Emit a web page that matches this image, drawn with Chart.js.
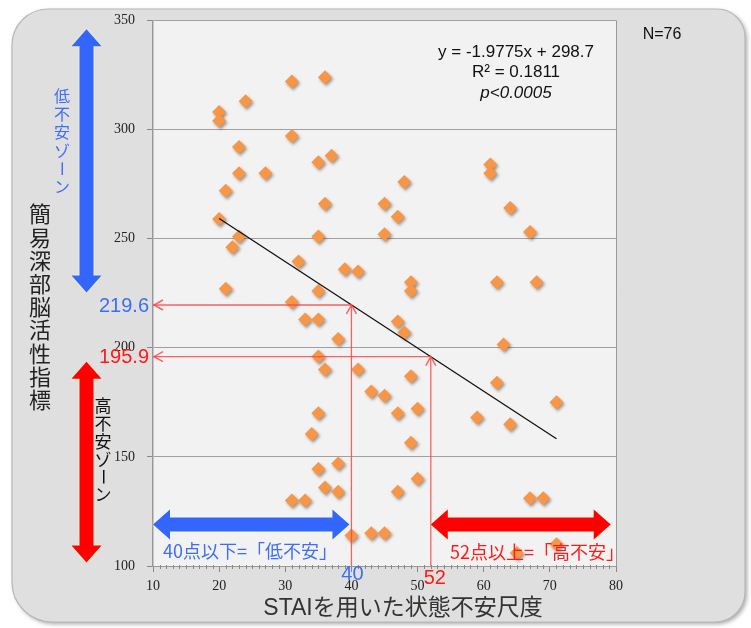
<!DOCTYPE html>
<html>
<head>
<meta charset="utf-8">
<script src="https://cdn.jsdelivr.net/npm/chart.js@4.4.1/dist/chart.umd.min.js"></script>
<style>
  body { margin: 0; background: #fff; }
</style>
</head>
<body>
<canvas id="scatterChart" width="751" height="628"></canvas>
<script>
// STAI score (x) vs brain activity index (y)
var staiScores = [31, 36, 24, 20, 20, 31, 23, 37, 35, 23, 27, 21, 36, 45, 61, 61, 48, 64,
    20, 23, 22, 35, 45, 32, 39, 41, 21, 35, 31, 33, 35, 38, 35, 36, 41, 43, 45, 47,
    67, 49, 49, 62, 68, 47, 48, 63, 49, 62, 71, 47, 50, 59, 64, 49, 50, 47, 67, 69,
    71, 65, 35, 34, 35, 38, 36, 38, 31, 33, 40, 43, 45];
var brainIndex = [322, 324, 313, 308, 304, 297, 292, 288, 285, 280, 280, 272, 266, 266, 284, 280, 276, 264,
    259, 251, 246, 251, 252, 239.5, 236, 235, 227, 226, 221, 213, 213, 204, 196, 190, 190, 180, 178, 260,
    253, 230, 226, 230, 230, 212, 207, 201.5, 187, 184, 175, 170, 172, 168, 165, 156.5, 140, 134, 131, 131,
    110, 106, 170, 160.5, 144.5, 147, 136, 134, 130, 130, 114, 115, 115];

// regression line y = -1.9775x + 298.7 drawn between these ends
var trendX = [20, 71];
var trendY = [259.2, 158.3];

// cut-off guides: STAI 40 -> 219.6, STAI 52 -> 195.9
var lowCutX = [40, 40, 10];
var lowCutY = [100, 219.6, 219.6];
var highCutX = [52, 52, 10];
var highCutY = [100, 195.9, 195.9];

var xTicks = [10, 20, 30, 40, 50, 60, 70, 80];
var yTicks = [100, 150, 200, 250, 300, 350];

function toPoints(xs, ys) {
    return xs.map(function (x, i) { return { x: x, y: ys[i] }; });
}

var BLUE = '#3d6ef7';
var RED = '#ff1a1a';

function vText(ctx, str, x, y0, step) {
    for (var i = 0; i < str.length; i++) {
        var ch = str[i];
        var y = y0 + i * step;
        if (ch === 'ー') {
            ctx.save();
            ctx.translate(x, y);
            ctx.rotate(Math.PI / 2);
            ctx.fillText(ch, 0, 0);
            ctx.restore();
        } else {
            ctx.fillText(ch, x, y);
        }
    }
}

// double headed fat arrow between (x1,y1) and (x2,y2)
function fatArrow(ctx, x1, y1, x2, y2, color) {
    var dx = x2 - x1, dy = y2 - y1;
    var len = Math.sqrt(dx * dx + dy * dy);
    var shaft = 7, head = 15, hl = 17;
    ctx.save();
    ctx.translate(x1, y1);
    ctx.rotate(Math.atan2(dy, dx));
    ctx.beginPath();
    ctx.moveTo(0, 0);
    ctx.lineTo(hl, -head);
    ctx.lineTo(hl, -shaft);
    ctx.lineTo(len - hl, -shaft);
    ctx.lineTo(len - hl, -head);
    ctx.lineTo(len, 0);
    ctx.lineTo(len - hl, head);
    ctx.lineTo(len - hl, shaft);
    ctx.lineTo(hl, shaft);
    ctx.lineTo(hl, head);
    ctx.closePath();
    ctx.shadowColor = 'rgba(255,250,190,0.9)';
    ctx.shadowBlur = 3;
    ctx.fillStyle = color;
    ctx.fill();
    ctx.restore();
}

function openHead(ctx, x, y, angle, color) {
    ctx.save();
    ctx.translate(x, y);
    ctx.rotate(angle);
    ctx.strokeStyle = color;
    ctx.lineWidth = 1.5;
    ctx.beginPath();
    ctx.moveTo(9, -5);
    ctx.lineTo(0, 0);
    ctx.lineTo(9, 5);
    ctx.stroke();
    ctx.restore();
}

var decorPlugin = {
    id: 'decor',
    beforeDraw: function (chart) {
        var ctx = chart.ctx, a = chart.chartArea;
        ctx.save();
        ctx.fillStyle = '#fff';
        ctx.fillRect(0, 0, chart.width, chart.height);
        ctx.shadowColor = 'rgba(0,0,0,0.35)';
        ctx.shadowBlur = 4;
        ctx.shadowOffsetX = 2;
        ctx.shadowOffsetY = 2;
        ctx.beginPath();
        ctx.roundRect(12, 9, 733, 613, [36, 28, 30, 40]);
        ctx.fillStyle = '#dfdfdf';
        ctx.fill();
        ctx.shadowColor = 'transparent';
        ctx.strokeStyle = '#b8b8b8';
        ctx.lineWidth = 1.2;
        ctx.stroke();
        ctx.fillStyle = '#f2f2f2';
        ctx.fillRect(a.left, a.top, a.right - a.left, a.bottom - a.top);
        ctx.restore();
    },
    beforeDatasetDraw: function (chart, args) {
        if (args.index === 0) {
            var ctx = chart.ctx;
            ctx.save();
            ctx.shadowColor = 'rgba(60,40,20,0.45)';
            ctx.shadowBlur = 3;
            ctx.shadowOffsetX = 1.5;
            ctx.shadowOffsetY = 2;
        }
    },
    afterDatasetDraw: function (chart, args) {
        if (args.index === 0) chart.ctx.restore();
    },
    afterDraw: function (chart) {
        var ctx = chart.ctx, a = chart.chartArea;
        var xs = chart.scales.x, ys = chart.scales.y;
        ctx.save();

        // right frame line
        ctx.strokeStyle = '#999';
        ctx.lineWidth = 1;
        ctx.beginPath();
        ctx.moveTo(a.right + 0.5, a.top);
        ctx.lineTo(a.right + 0.5, a.bottom);
        ctx.stroke();

        // minor ticks on x axis
        ctx.strokeStyle = '#888';
        for (var v = 11; v < 80; v++) {
            if (v % 10 === 0) continue;
            var px = Math.round(xs.getPixelForValue(v)) + 0.5;
            ctx.beginPath();
            ctx.moveTo(px, a.bottom - 1);
            ctx.lineTo(px, a.bottom + 3);
            ctx.stroke();
        }

        // open arrow heads on the cut-off guides
        var guide = 'rgba(255,70,70,0.85)';
        openHead(ctx, xs.getPixelForValue(40), ys.getPixelForValue(219.6), Math.PI / 2, guide);
        openHead(ctx, xs.getPixelForValue(52), ys.getPixelForValue(195.9), Math.PI / 2, guide);
        openHead(ctx, xs.getPixelForValue(10) + 1, ys.getPixelForValue(219.6), 0, guide);
        openHead(ctx, xs.getPixelForValue(10) + 1, ys.getPixelForValue(195.9), 0, guide);

        // zone arrows
        fatArrow(ctx, 86.5, ys.getPixelForValue(346), 86.5, ys.getPixelForValue(225.3), '#3366ff');
        fatArrow(ctx, 86.5, ys.getPixelForValue(193.6), 86.5, ys.getPixelForValue(101.6), '#ff0000');
        fatArrow(ctx, xs.getPixelForValue(10), ys.getPixelForValue(119), xs.getPixelForValue(39.7), ys.getPixelForValue(119), '#3366ff');
        fatArrow(ctx, xs.getPixelForValue(52), ys.getPixelForValue(119), xs.getPixelForValue(79.2), ys.getPixelForValue(119), '#ff0000');

        var cjk = '"Noto Sans CJK JP", "Noto Sans", sans-serif';
        ctx.textBaseline = 'middle';
        ctx.textAlign = 'center';

        // y axis title, stacked vertically
        ctx.fillStyle = '#222';
        ctx.font = '22px ' + cjk;
        vText(ctx, '簡易深部脳活性指標', 40, 214, 23.2);

        ctx.fillStyle = BLUE;
        ctx.font = '16px ' + cjk;
        vText(ctx, '低不安ゾーン', 62, 96, 18.2);

        ctx.fillStyle = '#111';
        ctx.font = '17px ' + cjk;
        vText(ctx, '高不安ゾーン', 103, 406, 17.7);

        // x axis title
        ctx.fillStyle = '#333';
        ctx.font = '23px "Liberation Sans", ' + cjk;
        ctx.fillText('STAIを用いた状態不安尺度', 403, 609);

        // cut-off values
        ctx.font = '20px "Liberation Sans", sans-serif';
        ctx.textAlign = 'right';
        ctx.fillStyle = BLUE;
        ctx.fillText('219.6', 149, ys.getPixelForValue(219.6) + 1);
        ctx.fillStyle = RED;
        ctx.fillText('195.9', 149, ys.getPixelForValue(195.9) + 1);
        ctx.textAlign = 'center';
        ctx.fillStyle = BLUE;
        ctx.fillText('40', xs.getPixelForValue(40) + 1, 574);
        ctx.fillStyle = RED;
        ctx.fillText('52', xs.getPixelForValue(52) + 4, 578);

        // zone captions
        ctx.textAlign = 'left';
        ctx.font = '18px ' + cjk;
        ctx.fillStyle = BLUE;
        ctx.fillText('40点以下=「低不安」', 163, 551);
        ctx.fillStyle = RED;
        ctx.fillText('52点以上=「高不安」', 450, 552);

        // regression text
        ctx.textAlign = 'center';
        ctx.fillStyle = '#111';
        ctx.font = '17px "Liberation Sans", sans-serif';
        ctx.fillText('y = -1.9775x + 298.7', 516, 52);
        ctx.fillText('R² = 0.1811', 516, 72);
        ctx.font = 'italic 17px "Liberation Sans", sans-serif';
        ctx.fillText('p<0.0005', 516, 93);

        ctx.font = '16px "Liberation Sans", sans-serif';
        ctx.fillText('N=76', 662, 35);
        ctx.restore();
    }
};

var ctx = document.getElementById('scatterChart').getContext('2d');
var myChart = new Chart(ctx, {
    type: 'scatter',
    data: {
        datasets: [{
            label: 'STAI',
            data: toPoints(staiScores, brainIndex),
            pointStyle: 'rectRot',
            pointRadius: 7,
            backgroundColor: '#f79646',
            borderWidth: 0,
            order: 2
        }, {
            label: 'trend',
            data: toPoints(trendX, trendY),
            showLine: true,
            borderColor: '#111',
            borderWidth: 1.3,
            pointRadius: 0,
            order: 1
        }, {
            label: 'low cut',
            data: toPoints(lowCutX, lowCutY),
            showLine: true,
            borderColor: 'rgba(255,70,70,0.85)',
            borderWidth: 1.3,
            pointRadius: 0,
            order: 0
        }, {
            label: 'high cut',
            data: toPoints(highCutX, highCutY),
            showLine: true,
            borderColor: 'rgba(255,70,70,0.85)',
            borderWidth: 1.3,
            pointRadius: 0,
            order: 0
        }]
    },
    options: {
        responsive: false,
        animation: false,
        layout: {
            padding: { top: 19, right: 135, left: 0, bottom: 0 }
        },
        plugins: {
            legend: { display: false },
            tooltip: { enabled: false }
        },
        scales: {
            x: {
                type: 'linear',
                min: 10,
                max: 80,
                afterFit: function (scale) { scale.height = 62; },
                afterBuildTicks: function (scale) {
                    scale.ticks = xTicks.map(function (v) { return { value: v }; });
                },
                ticks: {
                    color: '#222',
                    padding: 6,
                    maxRotation: 0,
                    font: { family: '"Liberation Serif", serif', size: 14 }
                },
                grid: {
                    drawOnChartArea: false,
                    tickColor: '#888',
                    tickLength: 6
                },
                border: { color: '#999', width: 1 }
            },
            y: {
                min: 100,
                max: 350,
                afterFit: function (scale) { scale.width = 153; },
                afterBuildTicks: function (scale) {
                    scale.ticks = yTicks.map(function (v) { return { value: v }; });
                },
                ticks: {
                    color: '#222',
                    padding: 12,
                    font: { family: '"Liberation Serif", serif', size: 14 }
                },
                grid: {
                    color: '#a0a0a0',
                    tickColor: '#888',
                    tickLength: 6
                },
                border: { color: '#999', width: 1.5 }
            }
        }
    },
    plugins: [decorPlugin]
});
</script>
</body>
</html>
